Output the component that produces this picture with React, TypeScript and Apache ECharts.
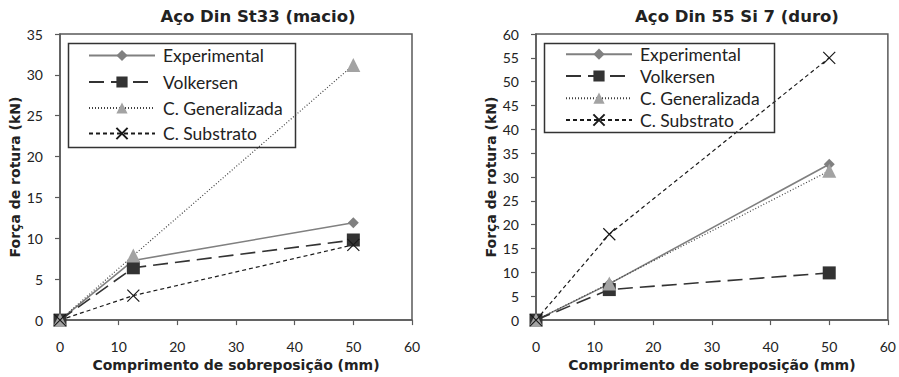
import React, { useEffect, useRef } from "react";
import * as echarts from "echarts";

const xValues = [0, 12.5, 50];
const seriesNames = ["Experimental", "Volkersen", "C. Generalizada", "C. Substrato"];

const leftTitle = "Aço Din St33 (macio)";
const leftExperimental = [0, 7.3, 11.9];
const leftVolkersen = [0, 6.4, 9.8];
const leftGeneralizada = [0, 7.9, 31.2];
const leftSubstrato = [0, 3.0, 9.2];

const rightTitle = "Aço Din 55 Si 7 (duro)";
const rightExperimental = [0, 7.6, 32.7];
const rightVolkersen = [0, 6.4, 9.9];
const rightGeneralizada = [0, 7.7, 31.3];
const rightSubstrato = [0, 18.0, 55.0];

const xAxisName = "Comprimento de sobreposição (mm)";
const yAxisName = "Força de rotura (kN)";

const FONT = "Lato";
const BOLD_FONT = "DejaVu Sans";
const AXIS_COLOR = "#5a5a5a";
const X_SYMBOL = "path://M0,0L12,12M12,0L0,12";

function pts(ys: number[]) {
  return xValues.map((x, i) => [x, ys[i]]);
}

function makeSeries(gridIdx: number, data: number[][]) {
  const [exp, vol, gen, sub] = data;
  return [
    {
      name: seriesNames[0],
      type: "line",
      xAxisIndex: gridIdx,
      yAxisIndex: gridIdx,
      data: exp,
      symbol: "diamond",
      symbolSize: 11,
      itemStyle: { color: "#808080" },
      lineStyle: { color: "#808080", width: 1.6, type: "solid" },
    },
    {
      name: seriesNames[1],
      type: "line",
      xAxisIndex: gridIdx,
      yAxisIndex: gridIdx,
      data: vol,
      symbol: "rect",
      symbolSize: 13,
      itemStyle: { color: "#333333" },
      lineStyle: { color: "#333333", width: 1.6, type: [15, 7] },
    },
    {
      name: seriesNames[2],
      type: "line",
      xAxisIndex: gridIdx,
      yAxisIndex: gridIdx,
      data: gen,
      symbol: "triangle",
      symbolSize: 14,
      itemStyle: { color: "#a3a3a3" },
      lineStyle: { color: "#404040", width: 1.2, type: [1, 2] },
    },
    {
      name: seriesNames[3],
      type: "line",
      xAxisIndex: gridIdx,
      yAxisIndex: gridIdx,
      data: sub,
      symbol: X_SYMBOL,
      symbolSize: 12,
      itemStyle: { color: "transparent", borderColor: "#1a1a1a", borderWidth: 1.2 },
      lineStyle: { color: "#1a1a1a", width: 1.2, type: [4, 3] },
    },
  ];
}

function makeXAxis(gridIndex: number) {
  return {
    type: "value",
    gridIndex,
    min: 0,
    max: 60,
    interval: 10,
    name: xAxisName,
    nameLocation: "middle",
    nameGap: 32,
    nameTextStyle: { fontFamily: BOLD_FONT, fontWeight: "bold", fontSize: 14, color: "#222" },
    axisLine: { show: true, lineStyle: { color: AXIS_COLOR, width: 1.5 } },
    axisTick: { show: true, inside: false, length: 5, lineStyle: { color: AXIS_COLOR, width: 1.2 } },
    axisLabel: { margin: 19, fontFamily: FONT, fontSize: 14, color: "#222" },
    splitLine: { show: false },
  };
}

function makeYAxis(gridIndex: number, max: number) {
  return {
    type: "value",
    gridIndex,
    min: 0,
    max,
    interval: 5,
    name: yAxisName,
    nameLocation: "middle",
    nameGap: 38,
    nameRotate: 90,
    nameTextStyle: { fontFamily: BOLD_FONT, fontWeight: "bold", fontSize: 14, color: "#222" },
    axisLine: { show: true, lineStyle: { color: AXIS_COLOR, width: 1.5 } },
    axisTick: { show: true, inside: false, length: 5, lineStyle: { color: AXIS_COLOR, width: 1.2 } },
    axisLabel: { margin: 17, fontFamily: FONT, fontSize: 14, color: "#222" },
    splitLine: { show: false },
  };
}

const leftLegendRows = [54, 80.5, 106.5, 132];
const rightLegendRows = [52.7, 74.5, 96.7, 118.5];

function makeLegends(left: number, rows: number[]) {
  return seriesNames.map((name, i) => ({
    data: [name],
    orient: "vertical",
    left,
    top: rows[i] - 7.5,
    padding: 0,
    itemWidth: 66,
    itemHeight: 14,
    selectedMode: false,
    textStyle: { fontFamily: FONT, fontSize: 17.5, color: "#222", padding: [0, 0, 0, 3] },
  }));
}

export default function App() {
  const ref = useRef<HTMLDivElement>(null);
  useEffect(() => {
    if (!ref.current) return;
    const chart = echarts.init(ref.current, undefined, { renderer: "svg" });
    const titleStyle = { fontFamily: BOLD_FONT, fontWeight: "bold", fontSize: 16.5, color: "#222" };
    const option = {
      animation: false,
      backgroundColor: "#ffffff",
      title: [
        { text: leftTitle, left: 258, top: 8, textAlign: "center", padding: 0, textStyle: titleStyle },
        { text: rightTitle, left: 737, top: 8, textAlign: "center", padding: 0, textStyle: titleStyle },
      ],
      legend: [...makeLegends(88, leftLegendRows), ...makeLegends(565, rightLegendRows)],
      grid: [
        { left: 60, top: 34, width: 352, height: 289.5, show: true, borderColor: AXIS_COLOR, borderWidth: 1.5, backgroundColor: "transparent" },
        { left: 536, top: 34, width: 352, height: 289.5, show: true, borderColor: AXIS_COLOR, borderWidth: 1.5, backgroundColor: "transparent" },
      ],
      xAxis: [makeXAxis(0), makeXAxis(1)],
      yAxis: [makeYAxis(0, 35), makeYAxis(1, 60)],
      graphic: [
        { type: "rect", left: 66, top: 41, shape: { width: 227, height: 104 }, style: { fill: "none", stroke: "#333", lineWidth: 1.5 }, z: 10 },
        { type: "rect", left: 542, top: 41, shape: { width: 230, height: 89 }, style: { fill: "none", stroke: "#333", lineWidth: 1.5 }, z: 10 },
      ],
      series: [
        ...makeSeries(0, [pts(leftExperimental), pts(leftVolkersen), pts(leftGeneralizada), pts(leftSubstrato)]),
        ...makeSeries(1, [pts(rightExperimental), pts(rightVolkersen), pts(rightGeneralizada), pts(rightSubstrato)]),
      ],
    };
    chart.setOption(option as any);
    return () => chart.dispose();
  }, []);
  return <div ref={ref} style={{ position: "fixed", left: 0, top: 0, width: 899, height: 377 }} />;
}
